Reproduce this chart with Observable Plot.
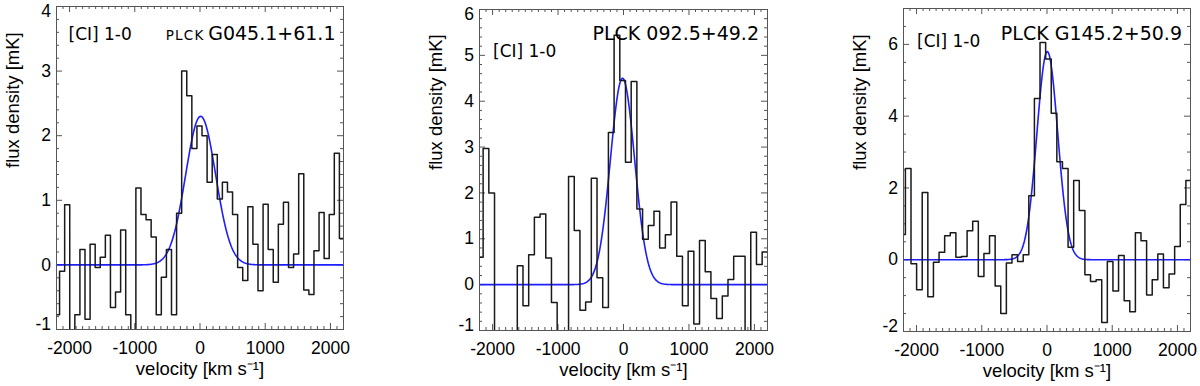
<!DOCTYPE html>
<html><head><meta charset="utf-8">
<script src="https://cdn.jsdelivr.net/npm/d3@7"></script>
<script src="https://cdn.jsdelivr.net/npm/@observablehq/plot@0.6"></script>
<style>
html,body{margin:0;padding:0;background:#fff;}
#wrap{position:relative;width:1200px;height:386px;overflow:hidden;background:#fff;}
#wrap svg{position:absolute;top:0;}
</style></head><body><div id="wrap"></div>
<script>
// ---------- data ----------
const vel1 = [-2192,-2114,-2036,-1958,-1880,-1802,-1724,-1646,-1568,-1490,-1412,-1334,-1256,-1178,-1100,-1022,-944,-866,-788,-710,-632,-554,-476,-398,-320,-242,-164,-86,-8,70,148,226,304,382,460,538,616,694,772,850,928,1006,1084,1162,1240,1318,1396,1474,1552,1630,1708,1786,1864,1942,2020,2098,2176];
const flux1 = [-0.77,-0.10,0.93,-1.30,-0.77,0.24,-0.84,0.32,-0.04,0.12,0.46,-0.66,-0.42,0.54,-0.77,-1.20,1.19,0.78,0.70,0.43,-0.77,-0.19,0.24,-0.77,0.80,3.00,2.62,1.80,2.15,2.00,1.28,1.71,1.02,1.28,1.13,0.78,-0.04,-0.24,0.90,0.32,-0.40,0.94,0.24,-0.27,0.63,0.97,-0.04,0.17,1.41,-0.39,-0.46,0.22,0.81,0.10,0.78,1.73,0.41];

const vel2 = [-2188,-2101,-2014,-1927,-1840,-1753,-1666,-1579,-1492,-1405,-1318,-1231,-1144,-1057,-970,-883,-796,-709,-622,-535,-448,-361,-274,-187,-100,-13,74,161,248,335,422,509,596,683,770,857,944,1031,1118,1205,1292,1379,1466,1553,1640,1727,1814,1901,1988,2075,2162];
const flux2 = [0.60,2.97,2.00,-1.50,-1.80,-1.60,-1.30,0.41,-0.46,0.65,1.47,1.54,0.58,-0.39,-1.40,-1.20,2.36,1.18,-0.56,-0.38,2.32,0.15,-0.50,3.32,5.44,4.45,2.67,4.43,1.65,0.99,1.29,1.60,0.80,1.09,1.80,0.62,-0.46,0.73,-0.86,0.96,0.28,-0.30,-0.74,-0.25,0.11,0.62,0.62,-1.30,1.14,0.44,0.71];

const vel3 = [-2214,-2128,-2042,-1956,-1870,-1784,-1698,-1612,-1526,-1440,-1354,-1268,-1182,-1096,-1010,-924,-838,-752,-666,-580,-494,-408,-322,-236,-150,-64,22,108,194,280,366,452,538,624,710,796,882,968,1054,1140,1226,1312,1398,1484,1570,1656,1742,1828,1914,2000,2086,2172];
const flux3 = [0.70,2.54,-0.11,-0.84,1.87,-1.03,-0.07,0.21,0.67,0.75,0.07,0.09,0.81,1.07,-0.47,0.17,0.67,-0.73,-1.50,-0.09,0.14,-0.05,0.14,1.78,4.49,6.05,5.59,4.08,2.73,2.54,0.35,2.21,1.37,-0.42,-0.61,-0.56,-1.75,-0.05,-0.87,0.12,-1.14,-1.45,0.75,0.53,-0.98,-0.56,0.16,-0.78,-0.40,0.37,1.54,2.21];

// Gaussian fits (amplitude mK, centre km/s, sigma km/s)
const fitAmp = [2.3, 4.5, 5.8];
const fitCenter = [10, -15, 5];
const fitSigma = [230, 185, 160];

const lineLabel = "[CI] 1-0";
const namePrefix = ["PLCK", "", ""];
const sourceNames = ["G045.1+61.1", "PLCK 092.5+49.2", "PLCK G145.2+50.9"];
const xTitle = "velocity [km s\u207B\u00B9]";
const yTitle = "flux density [mK]";
const xDomain = [-2200, 2200];
const xTicks = [-2000, -1000, 0, 1000, 2000];
const yDomains = [[-1, 4], [-1, 6], [-2, 7]];
const yTicks1 = [-1, 0, 1, 2, 3, 4];
const yTicks2 = [-1, 0, 1, 2, 3, 4, 5, 6];
const yTicks3 = [-2, 0, 2, 4, 6];
const yMinorStep = [0.2, 0.2, 0.5];
const xMinorStep = 100;

// ---------- layout / style ----------
const W = 400, H = 386;
const axisColor = "#555";
const tickFont = "Liberation Sans, Arial, Helvetica, sans-serif";
const annFont = "DejaVu Sans, Verdana, sans-serif";
const layout = [
  {left: 0,   ml: 56, mr: 57, mt: 6, mb: 57, ciDx: 12,   ciDy: 33,   nameDx: -8,   nameDy: 33, prefixDx: -139},
  {left: 400, ml: 79, mr: 33, mt: 9, mb: 56, ciDx: 13.5, ciDy: 47,   nameDx: -8.5, nameDy: 30},
  {left: 800, ml: 103, mr: 10, mt: 8, mb: 55, ciDx: 13.5, ciDy: 38.5, nameDx: -8.5, nameDy: 31}
];
const series = [[vel1, flux1, yTicks1], [vel2, flux2, yTicks2], [vel3, flux3, yTicks3]];

const wrap = document.getElementById("wrap");

series.forEach(([vel, flux, yTicks], i) => {
  const L = layout[i];
  const [y0, y1] = yDomains[i];
  const iw = W - L.ml - L.mr, ih = H - L.mt - L.mb;
  const kx = (xDomain[1] - xDomain[0]) / iw, ky = (y1 - y0) / ih;

  // step histogram points, continued half a channel at both ends
  const pts = vel.map((v, j) => ({v, f: flux[j]}));
  const w0 = vel[1] - vel[0], wn = vel[vel.length - 1] - vel[vel.length - 2];
  const hist = [{v: vel[0] - w0 / 2, f: flux[0]}, ...pts, {v: vel[vel.length - 1] + wn / 2, f: flux[flux.length - 1]}];

  // Gaussian fit model
  const grid = d3.range(xDomain[0], xDomain[1] + 0.1, 10);
  const gauss = grid.map(v => ({v, f: fitAmp[i] * Math.exp(-((v - fitCenter[i]) ** 2) / (2 * fitSigma[i] ** 2))}));

  // tick positions
  const xMinor = d3.range(xDomain[0], xDomain[1] + 1, xMinorStep).filter(v => !xTicks.includes(v));
  const yMin = d3.range(0, Math.round((y1 - y0) / yMinorStep[i]) + 1).map(k => +(y0 + k * yMinorStep[i]).toFixed(3)).filter(v => !yTicks.includes(v));

  const tickMarks = [];
  const addX = (vals, len) => {
    tickMarks.push(Plot.ruleX(vals, {x: d => d, y1: y0, y2: y0 + len * ky, stroke: axisColor, strokeWidth: 1}));
    tickMarks.push(Plot.ruleX(vals, {x: d => d, y1: y1, y2: y1 - len * ky, stroke: axisColor, strokeWidth: 1}));
  };
  const addY = (vals, len) => {
    tickMarks.push(Plot.ruleY(vals, {y: d => d, x1: xDomain[0], x2: xDomain[0] + len * kx, stroke: axisColor, strokeWidth: 1}));
    tickMarks.push(Plot.ruleY(vals, {y: d => d, x1: xDomain[1], x2: xDomain[1] - len * kx, stroke: axisColor, strokeWidth: 1}));
  };
  addX(xMinor, 3); addX(xTicks, 6);
  addY(yMin, 3); addY(yTicks.filter(t => t !== y0 && t !== y1), 6);

  const yInner = yTicks.filter(t => t !== y0 && t !== y1);
  const yTop = yTicks.filter(t => t === y1);
  const yBot = yTicks.filter(t => t === y0);
  const yLab = {frameAnchor: "left", text: d => String(d), dx: -5.5, textAnchor: "end", lineAnchor: "middle", fontFamily: tickFont, fontSize: 17.5, fill: "#000"};

  const marks = [
    ...tickMarks,
    Plot.line(gauss, {x: "v", y: "f", stroke: "#1e1eff", strokeWidth: 1.6, clip: true}),
    Plot.line(hist, {x: "v", y: "f", curve: "step", stroke: "#1a1a1a", strokeWidth: 1.5, clip: true}),
    Plot.frame({stroke: axisColor, strokeWidth: 1}),
    Plot.text(xTicks, {x: d => d, text: d => String(d), frameAnchor: "bottom", dy: 12, lineAnchor: "top", fontFamily: tickFont, fontSize: 17.5, fill: "#000"}),
    Plot.text(yInner, {...yLab, y: d => d}),
    Plot.text(yTop, {...yLab, y: d => d, dy: 5}),
    Plot.text(yBot, {...yLab, y: d => d, dy: -5}),
    Plot.text([lineLabel], {text: d => d, frameAnchor: "top-left", dx: L.ciDx, dy: L.ciDy, textAnchor: "start", lineAnchor: "bottom", fontFamily: annFont, fontSize: 17, fill: "#000"}),
    Plot.text([sourceNames[i]], {text: d => d, frameAnchor: "top-right", dx: L.nameDx, dy: L.nameDy, textAnchor: "end", lineAnchor: "bottom", fontFamily: annFont, fontSize: 19, fill: "#000"})
  ];
  if (namePrefix[i]) {
    marks.push(Plot.text([namePrefix[i]], {text: d => d, frameAnchor: "top-right", dx: L.prefixDx, dy: L.nameDy, textAnchor: "end", lineAnchor: "bottom", fontFamily: annFont, fontSize: 13.5, fill: "#000"}));
  }
  // axis titles
  marks.push(Plot.text([xTitle], {text: d => d, frameAnchor: "bottom", dy: 45, lineAnchor: "bottom", fontFamily: tickFont, fontSize: 18.5, fill: "#000"}));
  marks.push(Plot.text([yTitle], {text: d => d, frameAnchor: "left", dx: -38, rotate: -90, lineAnchor: "bottom", fontFamily: tickFont, fontSize: 18.5, fill: "#000"}));

  const svg = Plot.plot({
    width: W, height: H,
    marginLeft: L.ml, marginRight: L.mr, marginTop: L.mt, marginBottom: L.mb,
    x: {domain: xDomain, axis: null},
    y: {domain: [y0, y1], axis: null},
    style: {background: "transparent", overflow: "visible"},
    marks
  });
  svg.style.left = L.left + "px";
  wrap.appendChild(svg);

  d3.select(svg).selectAll("text").filter(function(){ return this.textContent === "PLCK"; }).attr("letter-spacing", "1.2px");
});
</script>
</body></html>
